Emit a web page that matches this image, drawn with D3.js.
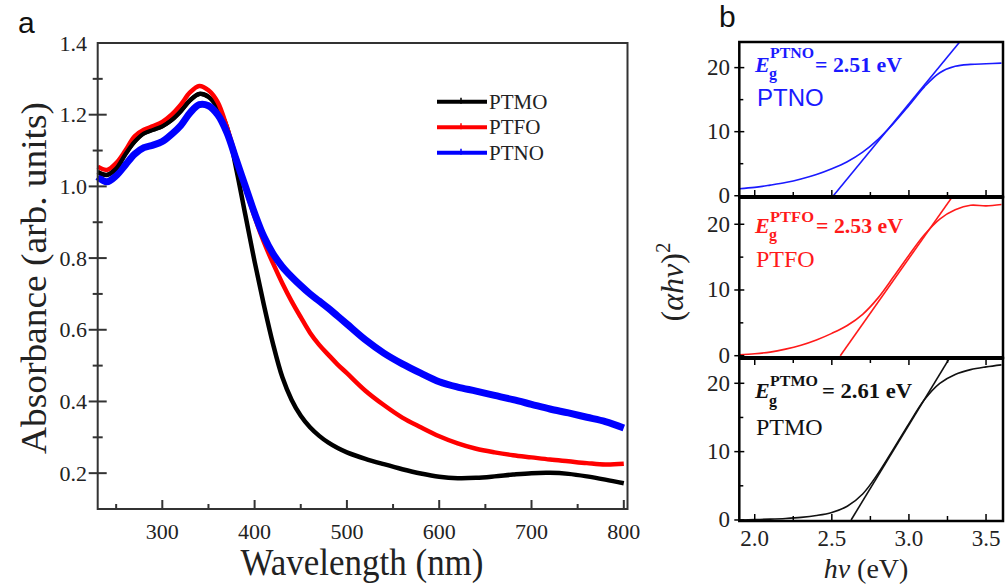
<!DOCTYPE html>
<meta charset="utf-8">
<style>
    body { margin: 0; background: #fff; }
    svg text { font-family: "Liberation Serif", Tinos, "Times New Roman", "DejaVu Serif", serif; fill: #222; }
    svg text.sans { font-family: "Liberation Sans", Arimo, Arial, sans-serif; }
</style>
<svg id="svg" width="1006" height="588"></svg>
<script src="https://cdn.jsdelivr.net/npm/d3@7/dist/d3.min.js"></script>
<script>

    // ---------------- panel a : UV-vis absorbance
    var wavelength = [230, 240, 250, 260, 270, 280, 290, 300, 310, 320, 330, 340, 350, 360, 370, 380, 390,
        400, 410, 420, 430, 440, 450, 460, 470, 480, 490, 500, 520, 540, 560, 580, 600, 620, 640, 660,
        680, 700, 720, 740, 760, 780, 800];
    var ptmo = [1.04, 1.032, 1.05, 1.09, 1.125, 1.148, 1.158, 1.168, 1.185, 1.21, 1.24, 1.258, 1.25, 1.22, 1.165, 1.05, 0.92,
        0.79, 0.67, 0.56, 0.468, 0.405, 0.36, 0.328, 0.304, 0.285, 0.27, 0.258, 0.24, 0.225, 0.211, 0.199, 0.19, 0.186, 0.187, 0.191,
        0.196, 0.2, 0.201, 0.198, 0.191, 0.182, 0.172];
    var ptfo = [1.055, 1.046, 1.065, 1.1, 1.14, 1.158, 1.168, 1.18, 1.2, 1.228, 1.262, 1.28, 1.268, 1.235, 1.165, 1.08, 0.995,
        0.915, 0.845, 0.785, 0.73, 0.68, 0.635, 0.592, 0.558, 0.53, 0.503, 0.479, 0.43, 0.39, 0.355, 0.328, 0.303, 0.283, 0.268, 0.258,
        0.25, 0.244, 0.238, 0.233, 0.228, 0.224, 0.226];
    var ptno = [1.027, 1.013, 1.03, 1.06, 1.09, 1.108, 1.115, 1.125, 1.145, 1.17, 1.205, 1.228, 1.225, 1.2, 1.15, 1.075, 1.0,
        0.925, 0.86, 0.812, 0.776, 0.748, 0.723, 0.7, 0.68, 0.66, 0.638, 0.616, 0.572, 0.535, 0.505, 0.479, 0.455, 0.44, 0.429, 0.417,
        0.405, 0.392, 0.379, 0.368, 0.356, 0.344, 0.326];

    var seriesNames = ["PTMO", "PTFO", "PTNO"];
    var seriesColors = ["#000000", "#ff0000", "#0000ff"];

    var xTicksA = [300, 400, 500, 600, 700, 800];
    var yTicksA = [0.2, 0.4, 0.6, 0.8, 1.0, 1.2, 1.4];

    // ---------------- panel b : Tauc plots
    var energy = [1.9, 2.0, 2.1, 2.2, 2.3, 2.4, 2.5, 2.6, 2.7, 2.8, 2.9, 3.0, 3.1, 3.2, 3.3, 3.4, 3.5, 3.6];
    var taucPTNO = [1.1, 1.3, 1.65, 2.05, 2.6, 3.3, 4.2, 5.3, 6.8, 8.8, 11.3, 14.1, 17.0, 19.2, 20.2, 20.5, 20.6, 20.7];
    var taucPTFO = [0.15, 0.3, 0.55, 1.0, 1.6, 2.4, 3.4, 4.6, 6.3, 8.8, 12.0, 15.3, 18.4, 20.8, 22.2, 22.9, 22.8, 23.0];
    var taucPTMO = [0.0, 0.05, 0.12, 0.22, 0.38, 0.65, 1.1, 2.0, 3.8, 6.8, 10.4, 14.1, 17.6, 20.0, 21.3, 22.0, 22.4, 22.7];

    // linear fits : x-intercept and slope of each tangent
    var tangentStart = [2.51, 2.555, 2.625];
    var tangentSlope = [29.3, 33.3, 37.1];
    var gapLabels = ["2.51", "2.53", "2.61"];

    var xTicksB = [2.0, 2.5, 3.0, 3.5];
    var yTicksB = [0, 10, 20];

    var svg = d3.select("#svg");

    /* ////////////////////////////////////////////////////////////////
                            PANEL a
    */ ////////////////////////////////////////////////////////////////

    var ax = {left: 97.7, right: 627.5, top: 43, bottom: 509};
    var xA = d3.scaleLinear().domain([230, 804]).range([ax.left, ax.right]);
    var yA = d3.scaleLinear().domain([0.1, 1.4]).range([ax.bottom, ax.top]);

    var gA = svg.append("g");

    var lineA = d3.line()
        .x(function (d) { return xA(d[0]); })
        .y(function (d) { return yA(d[1]); })
        .curve(d3.curveCatmullRom.alpha(0.5));

    var spectra = [ptmo, ptfo, ptno];
    var widths = [4.5, 4.5, 7];
    spectra.forEach(function (s, i) {
        gA.append("path")
            .datum(wavelength.map(function (w, j) { return [w, s[j]]; }))
            .attr("fill", "none")
            .attr("stroke", seriesColors[i])
            .attr("stroke-width", widths[i])
            .attr("stroke-linejoin", "round")
            .attr("d", lineA);
    });
    // the black curve sits on top of red/blue in the dip region
    gA.append("path")
        .datum(wavelength.map(function (w, j) { return [w, ptmo[j]]; }).filter(function (d) { return d[0] <= 350; }))
        .attr("fill", "none").attr("stroke", "#000").attr("stroke-width", 4)
        .attr("d", lineA);

    // frame
    gA.append("rect")
        .attr("x", ax.left).attr("y", ax.top)
        .attr("width", ax.right - ax.left).attr("height", ax.bottom - ax.top)
        .attr("fill", "none").attr("stroke", "#333").attr("stroke-width", 2);

    // x ticks (inward)
    var xAll = d3.range(250, 801, 50);
    gA.selectAll(".xt").data(xAll).enter().append("line")
        .attr("x1", function (d) { return xA(d); }).attr("x2", function (d) { return xA(d); })
        .attr("y1", ax.bottom).attr("y2", function (d) { return ax.bottom - (d % 100 === 0 ? 9 : 5); })
        .attr("stroke", "#333").attr("stroke-width", 2);
    gA.selectAll(".xl").data(xTicksA).enter().append("text")
        .attr("x", function (d) { return xA(d); }).attr("y", 539)
        .attr("text-anchor", "middle").attr("font-size", 22)
        .text(function (d) { return d; });

    // y ticks (crossing the axis)
    var yAll = d3.range(2, 14).map(function (d) { return d / 10; });
    gA.selectAll(".yt").data(yAll).enter().append("line")
        .attr("y1", function (d) { return yA(d); }).attr("y2", function (d) { return yA(d); })
        .attr("x1", function (d) { return ax.left - (Math.round(d * 10) % 2 === 0 ? 9 : 5); })
        .attr("x2", function (d) { return ax.left + (Math.round(d * 10) % 2 === 0 ? 9 : 5); })
        .attr("stroke", "#333").attr("stroke-width", 2);
    gA.selectAll(".yl").data(yTicksA).enter().append("text")
        .attr("x", 87).attr("y", function (d) { return yA(d) + 7.5; })
        .attr("text-anchor", "end").attr("font-size", 22)
        .text(function (d) { return d.toFixed(1); });

    // axis titles
    gA.append("text")
        .attr("x", 362).attr("y", 575)
        .attr("text-anchor", "middle").attr("font-size", 37)
        .attr("textLength", 243).attr("lengthAdjust", "spacingAndGlyphs")
        .text("Wavelength (nm)");
    gA.append("text")
        .attr("transform", "translate(46,278) rotate(-90)")
        .attr("text-anchor", "middle").attr("font-size", 36)
        .attr("textLength", 352).attr("lengthAdjust", "spacingAndGlyphs")
        .text("Absorbance (arb. units)");

    // legend
    var legendY = [101.7, 127.3, 152.7];
    seriesNames.forEach(function (name, i) {
        gA.append("line")
            .attr("x1", 437).attr("x2", 487).attr("y1", legendY[i]).attr("y2", legendY[i])
            .attr("stroke", seriesColors[i]).attr("stroke-width", 4);
        gA.append("line")
            .attr("x1", 461).attr("x2", 461).attr("y1", legendY[i] - 4).attr("y2", legendY[i] + 2)
            .attr("stroke", seriesColors[i]).attr("stroke-width", 1.5);
        gA.append("text")
            .attr("x", 489).attr("y", legendY[i] + 7)
            .attr("font-size", 21)
            .text(name);
    });

    svg.append("text").attr("class", "sans")
        .attr("x", 18).attr("y", 33).attr("font-size", 30).style("fill", "#111")
        .text("a");

    /* ////////////////////////////////////////////////////////////////
                            PANEL b
    */ ////////////////////////////////////////////////////////////////

    var bx = {left: 739.3, right: 1003};
    var xB = d3.scaleLinear().domain([1.9, 3.61]).range([bx.left, bx.right]);

    var panels = [
        {top: 42, bottom: 197, dom: [-0.2, 24], data: taucPTNO, color: "#1a1aff", k: 0, ticksUp: true},
        {top: 197, bottom: 358, dom: [-0.35, 24.15], data: taucPTFO, color: "#ff1a1a", k: 1, ticksUp: false},
        {top: 358, bottom: 521, dom: [-0.15, 23.7], data: taucPTMO, color: "#111111", k: 2, ticksUp: true}
    ];

    var defs = svg.append("defs");

    panels.forEach(function (p, i) {
        var y = d3.scaleLinear().domain(p.dom).range([p.bottom, p.top]);
        var g = svg.append("g");

        defs.append("clipPath").attr("id", "clip" + i)
            .append("rect").attr("x", bx.left).attr("y", p.top)
            .attr("width", bx.right - bx.left).attr("height", p.bottom - p.top);

        var line = d3.line()
            .x(function (d) { return xB(d[0]); })
            .y(function (d) { return y(d[1]); })
            .curve(d3.curveCatmullRom.alpha(0.5));

        var plot = g.append("g").attr("clip-path", "url(#clip" + i + ")");
        plot.append("path")
            .datum(energy.map(function (e, j) { return [e, p.data[j]]; }))
            .attr("fill", "none").attr("stroke", p.color).attr("stroke-width", 1.6)
            .attr("d", line);

        // tangent line, drawn through the panel and clipped
        var e0 = tangentStart[p.k], m = tangentSlope[p.k];
        plot.append("line")
            .attr("x1", xB(e0)).attr("y1", y(0))
            .attr("x2", xB(e0 + 25 / m)).attr("y2", y(25))
            .attr("stroke", p.color).attr("stroke-width", 1.6);

        // frame
        g.append("rect")
            .attr("x", bx.left).attr("y", p.top)
            .attr("width", bx.right - bx.left).attr("height", p.bottom - p.top)
            .attr("fill", "none").attr("stroke", "#000").attr("stroke-width", 2.5);

        // x ticks
        var xt = d3.range(2.0, 3.6, 0.25);
        g.selectAll(".xt").data(xt).enter().append("line")
            .attr("x1", function (d) { return xB(d); }).attr("x2", function (d) { return xB(d); })
            .attr("y1", p.bottom)
            .attr("y2", function (d) {
                var len = (Math.round(d * 100) % 50 === 0) ? 7 : 5;
                return p.ticksUp ? p.bottom - len : p.bottom + len;
            })
            .attr("stroke", "#000").attr("stroke-width", 1.5);

        // y ticks
        g.selectAll(".yt").data([0, 5, 10, 15, 20]).enter().append("line")
            .attr("y1", function (d) { return y(d); }).attr("y2", function (d) { return y(d); })
            .attr("x1", function (d) { return bx.left - (d % 10 === 0 ? 5 : 0); })
            .attr("x2", function (d) { return bx.left + (d % 10 === 0 ? 5 : 4); })
            .attr("stroke", "#000").attr("stroke-width", 1.5);
        g.selectAll(".yl").data(yTicksB).enter().append("text")
            .attr("x", 730).attr("y", function (d) { return y(d) + 7.5; })
            .attr("text-anchor", "end").attr("font-size", 23)
            .text(function (d) { return d; });
    });

    // thicker separators between stacked panels
    [197, 358].forEach(function (yy) {
        svg.append("line").attr("x1", bx.left).attr("x2", bx.right)
            .attr("y1", yy).attr("y2", yy)
            .attr("stroke", "#000").attr("stroke-width", 4);
    });

    // band gap annotations
    var annot = [
        {base: 72, sup: 58, sub: 79, color: "#1a1aff", x2: 815, w2: 87, name: "PTNO", sw: 44},
        {base: 233, sup: 222, sub: 240, color: "#ff1a1a", x2: 816, w2: 87, name: "PTFO", sw: 44},
        {base: 398, sup: 386, sub: 406, color: "#111111", x2: 822, w2: 90, name: "PTMO", sw: 48}
    ];
    annot.forEach(function (a, i) {
        var t = svg.append("g").attr("font-weight", "bold");
        t.append("text").attr("x", 755).attr("y", a.base)
            .attr("font-size", 22).attr("font-style", "italic").style("fill", a.color)
            .text("E");
        t.append("text").attr("x", 770).attr("y", a.sup)
            .attr("font-size", 14).style("fill", a.color)
            .attr("textLength", a.sw).attr("lengthAdjust", "spacingAndGlyphs")
            .text(a.name);
        t.append("text").attr("x", 769).attr("y", a.sub)
            .attr("font-size", 16).style("fill", a.color)
            .text("g");
        t.append("text").attr("x", a.x2).attr("y", a.base)
            .attr("font-size", 21).style("fill", a.color)
            .attr("textLength", a.w2).attr("lengthAdjust", "spacingAndGlyphs")
            .text("= " + gapLabels[i] + " eV");
    });

    // sample names inside panels
    svg.append("text").attr("class", "sans")
        .attr("x", 757).attr("y", 106).attr("font-size", 24).style("fill", "#1a1aff")
        .text("PTNO");
    svg.append("text")
        .attr("x", 756).attr("y", 267).attr("font-size", 24).style("fill", "#ff1a1a")
        .text("PTFO");
    svg.append("text")
        .attr("x", 756).attr("y", 435).attr("font-size", 24).style("fill", "#111")
        .text("PTMO");

    // panel b x tick labels
    svg.selectAll(".xlb").data(xTicksB).enter().append("text")
        .attr("x", function (d) { return xB(d); }).attr("y", 546)
        .attr("text-anchor", "middle").attr("font-size", 23)
        .text(function (d) { return d.toFixed(1); });

    // panel b axis titles
    var xTitle = svg.append("text")
        .attr("x", 866).attr("y", 578)
        .attr("text-anchor", "middle").attr("font-size", 28);
    xTitle.append("tspan").attr("font-style", "italic").text("h\u03bd");
    xTitle.append("tspan").text(" (eV)");

    var yTitle = svg.append("text")
        .attr("transform", "translate(683,282) rotate(-90)")
        .attr("text-anchor", "middle").attr("font-size", 32);
    yTitle.append("tspan").text("(");
    yTitle.append("tspan").attr("font-style", "italic").text("\u03b1h\u03bd");
    yTitle.append("tspan").text(")");
    yTitle.append("tspan").attr("dy", -13).attr("font-size", 21).text("2");

    svg.append("text").attr("class", "sans")
        .attr("x", 719).attr("y", 27).attr("font-size", 30).style("fill", "#111")
        .text("b");

</script>
